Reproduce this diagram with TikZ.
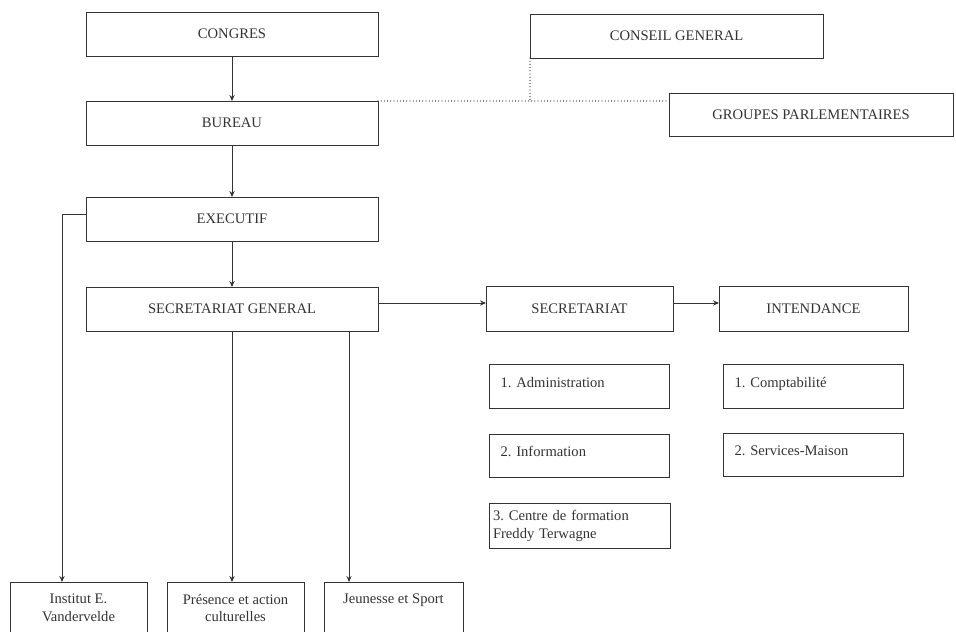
\documentclass[tikz,border=0pt]{standalone}
\usepackage{fontspec}
\setmainfont{Liberation Serif}
\frenchspacing
\usetikzlibrary{
    % calc,
    arrows.meta,
    positioning
}
\tikzset{
    every picture/.style = {
        > = {Stealth[length = 3pt, width = 2.6pt]},
        line width = 0.42pt,
        color = black!80
    },
    box/.style = {
        draw,
        rectangle,
        inner sep = 0pt,
        outer sep = 0pt,
        minimum width = 146pt,
        minimum height = 22pt,
        align = center
    },
    subbox/.style = {
        box,
        minimum width = 0pt,
        minimum height = 21.75pt,
        inner xsep = 5.5pt,
        text width = 79pt,
        align = left
    },
    subline/.style = {
        subbox,
        text height = 5pt,
        text depth = 4pt
    },
    basebox/.style = {
        box,
        minimum width = 68.5pt,
        minimum height = 26pt
    },
    faint/.style = {
        line width = 0.65pt,
        line cap = round,
        dash pattern = on 0pt off 1.6pt
    }
}

\begin{document}
\begin{tikzpicture}[x = 0.5pt, y = -0.5pt, font = \fontsize{7.3}{8.8}\selectfont]
    \useasboundingbox (0,0) rectangle (956,631);

    \node[box, anchor = north west] (congres) at (86,12) {CONGRES};
    \node[box] (bureau) [below = 22.5pt of congres] {BUREAU};
    \node[box] (executif) [below = 26pt of bureau] {EXECUTIF};
    \node[box] (secgen) [below = 23pt of executif] {SECRETARIAT GENERAL};

    \node[box, minimum width = 146.5pt, anchor = north west] (conseil) at (530,14) {CONSEIL GENERAL};
    \node[box, minimum width = 142pt, minimum height = 21.5pt, anchor = north west] (groupes) at (669,93) {GROUPES PARLEMENTAIRES};

    \node[box, minimum width = 93.5pt, minimum height = 22.5pt] (secr) [right = 54pt of secgen] {SECRETARIAT};
    \node[box, minimum width = 94.5pt, minimum height = 22.5pt] (intend) [right = 23pt of secr] {INTENDANCE};

    \node[subline] (admin) [below = 16.5pt of secr] {1. Administration};
    \node[subline] (info) [below = 13pt of admin] {2. Information};
    \node[subbox, inner xsep = 2pt, text width = 86.5pt, minimum height = 22.5pt] (centre) [below = 13pt of info] {3. Centre de formation\\Freddy Terwagne};
    \node[subline] (compta) [below = 16.5pt of intend] {1. Comptabilité};
    \node[subline] (services) [below = 12.5pt of compta] {2. Services-Maison};

    \node[basebox, anchor = north west] (institut) at (10,582) {Institut E.\\Vandervelde};
    \node[basebox] (presence) [right = 10pt of institut] {Présence et action\\culturelles};
    \node[basebox, minimum width = 69.5pt, text depth = 9pt] (jeunesse) [right = 10pt of presence] {Jeunesse et Sport};

    \path[->] (congres) edge (bureau);
    \path[->] (bureau) edge (executif);
    \path[->] (executif) edge (secgen);
    \path[->] ([yshift = 3pt]secgen.east) edge ([yshift = 3pt]secr.west);
    \path[->] ([yshift = 3pt]secr.east) edge ([yshift = 3pt]intend.west);
    \draw[->] ([yshift = 2.5pt]executif.west) -| ([xshift = -8.25pt]institut.north);
    \draw[->] (secgen.south) -- (secgen.south |- presence.north);
    \draw[->] ([xshift = 58.5pt]secgen.south) -- ([xshift = 58.5pt]secgen.south |- jeunesse.north);

    \draw[faint] (bureau.north east) -- (bureau.north east -| groupes.west);
    \draw[faint] (conseil.south west) -- (conseil.south west |- bureau.north east);
\end{tikzpicture}
\end{document}
